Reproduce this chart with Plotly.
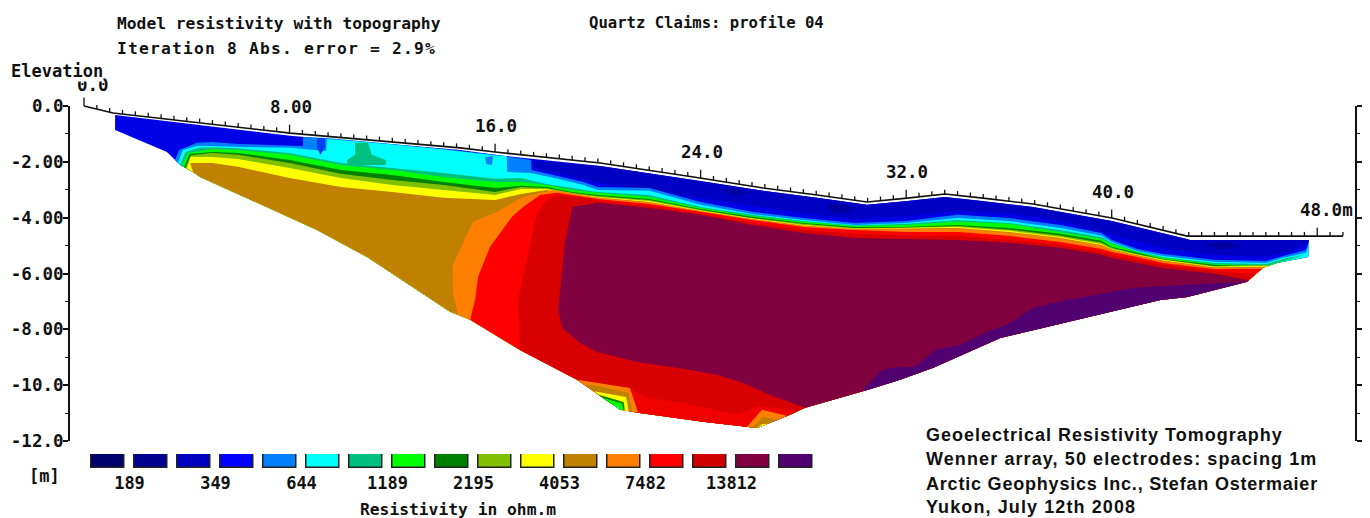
import plotly.graph_objects as go
import numpy as np

W, H = 1370, 518

# ---- topography (distance m, elevation m)
surface_x = [0, 1.13, 8.02, 14.64, 16, 20.09, 23.98, 26.43, 28.53, 30.48, 32.04, 33.51, 34.99, 36.94, 40.01, 42.94, 49]
surface_y = [0, -0.25, -0.97, -1.50, -1.65, -2.04, -2.58, -2.94, -3.19, -3.44, -3.30, -3.15, -3.30, -3.51, -4.01, -4.66, -4.66]

# ---- section outline
top_x = [1.21, 1.21, 8.02, 14.64, 16, 20.09, 23.98, 26.43, 28.53, 30.48, 32.04, 33.51, 34.99, 36.94, 40.01, 42.94, 43.05, 47.68]
top_y = [-0.86, -0.32, -1.07, -1.58, -1.75, -2.15, -2.69, -3.04, -3.29, -3.54, -3.40, -3.26, -3.40, -3.62, -4.12, -4.76, -4.80, -4.80]
low_x = [1.21, 3.23, 3.74, 4.24, 4.52, 9.07, 11.02, 14.25, 15.03, 16.97, 19.19, 20.87, 21.57, 24.10, 25.54, 26.20, 27.48, 28.07,
         30.48, 31.76, 33.05, 35.66, 38.26, 40.21, 41.89, 42.94, 45.27, 45.89, 46.44, 47.65]
low_y = [-0.86, -1.65, -2.11, -2.36, -2.54, -4.44, -5.41, -7.37, -7.66, -8.74, -9.81, -10.88, -10.99, -11.31, -11.46, -11.53, -11.06, -10.81,
         -10.17, -9.81, -9.38, -8.31, -7.74, -7.31, -6.95, -6.84, -6.30, -5.80, -5.62, -5.41]

# ---- band boundaries at shared stations
st_left = [5, 6, 8, 10, 12, 14, 16, 17, 18, 19]
st_right = [20, 22, 24, 26, 28, 30, 32, 34, 36, 38, 39.6, 40, 41, 42, 44]

midblue_x = [17.5, 17.5, 20, 24, 28, 30, 32, 34, 36, 38, 40, 42, 44, 46, 47, 47.6, 47.6, 43.05, 42.94, 40.01, 36.94, 34.99, 33.51, 32.04, 30.48, 28.53, 26.43, 23.98, 20.09]
midblue_y = [-1.95, -2.2, -2.75, -3.3, -3.85, -4.05, -3.95, -3.75, -3.85, -4.1, -4.6, -5.1, -5.35, -5.4, -5.2, -4.9, -4.8, -4.8, -4.76, -4.12, -3.62, -3.40, -3.26, -3.40, -3.54, -3.29, -3.04, -2.69, -2.15]
dark_patches = [
    ([24.8, 25.3, 25.9, 25.4], [-3.0, -2.95, -3.1, -3.25]),
    ([28.9, 29.5, 30.0, 29.6, 29.1], [-3.55, -3.5, -3.65, -3.85, -3.8]),
    ([43.5, 44.4, 45, 44.3], [-4.95, -4.87, -5.0, -5.15]),
]

lightblue_x = [3.54, 3.70, 4.40, 5, 6, 8, 8.52, 8.52, 9.46, 12, 14, 16, 17, 17.4, 17.42, 18.43, 19.44] + st_right + [46, 46.67, 47.57, 47.68]
lightblue_y = [-1.93, -1.58, -1.32, -1.29, -1.36, -1.40, -1.43, -1.11, -1.15, -1.36, -1.54, -1.75, -1.86, -1.93, -2.29, -2.51, -2.72,
               -2.90, -2.94, -3.44, -3.79, -4.01, -4.19, -4.12, -3.90, -4.01, -4.26, -4.55, -4.80, -5.12, -5.30, -5.51, -5.55, -5.37, -5.16, -4.83]

cyan_x = [3.66, 3.85, 4.40, 5, 6, 8, 9.42, 9.46, 12, 14, 16, 16.45, 16.47, 17.38, 18.43, 19.44] + st_right + [46, 46.67, 47.57, 47.68]
cyan_y = [-2.04, -1.58, -1.43, -1.43, -1.47, -1.50, -1.61, -1.18, -1.38, -1.56, -1.77, -1.79, -2.36, -2.40, -2.61, -2.83,
          -3.01, -3.04, -3.54, -3.87, -4.08, -4.26, -4.19, -4.01, -4.12, -4.37, -4.65, -4.87, -5.19, -5.37, -5.58, -5.62, -5.44, -5.26, -4.90]

teal_x = [3.74, 3.95, 4.5] + st_left + st_right + [46, 46.67, 47.6]
teal_y = [-2.11, -1.65, -1.49, -1.48, -1.52, -1.68, -2.04, -2.22, -2.40, -2.61, -2.58, -2.79, -2.94,
          -3.08, -3.19, -3.62, -3.90, -4.12, -4.28, -4.22, -4.08, -4.19, -4.44, -4.69, -4.90, -5.21, -5.41, -5.62, -5.66, -5.48, -5.30]

green_x = [3.82, 4.05] + st_left + st_right + [46, 46.67, 47.6]
green_y = [-2.15, -1.68, -1.54, -1.58, -1.75, -2.11, -2.29, -2.54, -2.72, -2.72, -2.83, -3.01,
           -3.11, -3.26, -3.65, -3.94, -4.15, -4.30, -4.26, -4.15, -4.22, -4.51, -4.76, -4.94, -5.23, -5.44, -5.66, -5.73, -5.55, -5.37]

dgreen_x = [3.90, 4.10] + st_left + st_right + [46, 46.3]
dgreen_y = [-2.19, -1.72, -1.65, -1.68, -1.93, -2.29, -2.47, -2.72, -2.94, -2.86, -2.90, -3.08,
            -3.19, -3.33, -3.69, -3.97, -4.19, -4.33, -4.33, -4.26, -4.37, -4.58, -4.83, -5.05, -5.26, -5.48, -5.69, -5.76, -5.67]

ygreen_x = [3.95, 4.15] + st_left + st_right + [46.2]
ygreen_y = [-2.22, -1.76, -1.68, -1.75, -2.04, -2.43, -2.65, -2.83, -3.08, -2.90, -2.94, -3.11,
            -3.22, -3.37, -3.72, -4.01, -4.22, -4.37, -4.35, -4.30, -4.42, -4.64, -4.89, -5.08, -5.30, -5.50, -5.73, -5.70]

yellow_x = [4.0, 4.15] + st_left + st_right + [46.1]
yellow_y = [-2.24, -1.83, -1.83, -1.90, -2.22, -2.58, -2.83, -3.01, -3.19, -2.97, -2.97, -3.15,
            -3.26, -3.40, -3.74, -4.03, -4.26, -4.40, -4.37, -4.33, -4.47, -4.69, -4.94, -5.12, -5.33, -5.51, -5.76, -5.73]

brown_x = [4.24, 4.13] + st_left + st_right + [46.0]
brown_y = [-2.36, -2.04, -2.04, -2.18, -2.58, -2.90, -3.08, -3.29, -3.37, -3.15, -3.01, -3.19,
           -3.28, -3.44, -3.76, -4.05, -4.28, -4.41, -4.39, -4.37, -4.51, -4.73, -4.98, -5.14, -5.35, -5.53, -5.78, -5.76]

orange_x = [14.56, 14.36, 14.36, 14.75, 15.14, 16.08, 17.09, 18.26] + st_right + [45.95]
orange_y = [-7.48, -6.69, -5.69, -4.90, -4.15, -3.79, -3.26, -3.01,
            -3.29, -3.47, -3.78, -4.06, -4.30, -4.42, -4.40, -4.40, -4.55, -4.76, -5.01, -5.16, -5.37, -5.55, -5.80, -5.78]

red_x = [15.03, 15.22, 15.34, 15.8, 16.66, 17.09, 17.75, 18.41] + st_right + [45.85]
red_y = [-7.66, -6.95, -6.12, -5.05, -3.97, -3.62, -3.19, -3.11,
         -3.33, -3.51, -3.79, -4.08, -4.33, -4.44, -4.51, -4.51, -4.65, -4.87, -5.12, -5.23, -5.41, -5.62, -5.84, -5.83]

dred_x = [16.97, 16.89, 17.09, 17.63, 18.02, 18.41, 19.42] + st_right + [45.6]
dred_y = [-8.74, -6.95, -6.12, -3.83, -3.37, -3.19, -3.26,
          -3.40, -3.58, -3.87, -4.19, -4.44, -4.58, -4.65, -4.65, -4.80, -4.98, -5.23, -5.33, -5.51, -5.69, -5.91, -6.03]

maroon_x = [28.07, 26.7, 25.65, 24.64, 23.08, 21.53, 19.97, 19.31, 18.61, 18.45, 18.72, 19.0] + st_right + [45.35]
maroon_y = [-10.81, -10.35, -9.92, -9.63, -9.38, -9.17, -8.81, -8.49, -7.95, -7.30, -4.90, -3.62,
            -3.47, -3.65, -3.90, -4.26, -4.55, -4.73, -4.76, -4.80, -4.90, -5.08, -5.33, -5.44, -5.62, -5.80, -6.01, -6.24]

purple_x = [30.28, 30.98, 31.37, 32.35, 33.13, 34.1, 35.07, 36.04, 36.94, 38.26, 40.83, 42.78, 45.27]
purple_y = [-10.22, -9.52, -9.38, -9.34, -8.73, -8.56, -8.13, -7.77, -7.23, -6.95, -6.52, -6.41, -6.30]

# deep pockets along the base
strip_x = [21.25, 21.25, 21.92, 23.32, 25.42, 25.73, 26.31, 27.75]
strip_y = [-10.94, -10.10, -10.45, -10.63, -11.06, -10.95, -10.74, -10.94]
pocket_a = [
    ("#ff8000", [19.19, 21.25, 21.57], [-9.81, -10.10, -10.99]),
    ("#c08000", [19.5, 19.75, 21.2, 21.35], [-10.01, -9.98, -10.27, -10.95]),
    ("#ffff00", [19.85, 21.1, 21.2], [-10.22, -10.42, -10.93]),
    ("#008000", [20.0, 21.0, 21.05], [-10.33, -10.60, -10.88]),
    ("#00ff00", [20.2, 20.95, 20.98], [-10.45, -10.67, -10.88]),
    ("#00ffff", [20.55, 20.8, 20.85], [-10.68, -10.78, -10.85]),
]
pocket_b = [
    ("#ff8000", [25.81, 26.39, 27.36], [-11.49, -10.88, -11.10]),
    ("#c08000", [26.0, 26.43, 27.01], [-11.51, -11.14, -11.23]),
    ("#ffff00", [26.2, 26.39, 26.62], [-11.53, -11.40, -11.38]),
]
# blobs in the near-surface layer
teal_blob_x = [10.24, 10.55, 10.55, 11.06, 11.2, 11.75, 11.75, 10.24]
teal_blob_y = [-1.93, -1.75, -1.32, -1.32, -1.75, -1.93, -2.11, -2.11]
lb_blob_x = [15.61, 15.92, 15.88, 15.65]
lb_blob_y = [-1.83, -1.79, -2.11, -2.08]
blue_blob_x = [9.07, 9.38, 9.38, 9.2, 9.07]
blue_blob_y = [-1.15, -1.15, -1.50, -1.75, -1.50]

# ---- axis and legend text
y_ticks = [0, -2, -4, -6, -8, -10, -12]
y_labels = ["0.0", "-2.00", "-4.00", "-6.00", "-8.00", "-10.0", "-12.0"]
x_label_pos = [0, 8, 16, 24, 32, 40, 48]
x_label_txt = ["0.0", "8.00", "16.0", "24.0", "32.0", "40.0", "48.0m"]
legend_colors = ["#00006e", "#000090", "#0000c0", "#0000ff", "#0080ff", "#00ffff", "#00c080", "#00ff00", "#008000",
                 "#80c000", "#ffff00", "#c08000", "#ff8000", "#ff0000", "#d00000", "#800040", "#500070"]
legend_vals = ["189", "349", "644", "1189", "2195", "4053", "7482", "13812"]

INK = "#111111"
MONO = "DejaVu Sans Mono"


def on_base(xs, ys):
    """Close a boundary along the lower outline of the section."""
    pts = [(a, b) for a, b in zip(reversed(low_x), reversed(low_y)) if xs[0] < a < xs[-1]]
    return list(xs) + [p[0] for p in pts], list(ys) + [p[1] for p in pts]


fig = go.Figure()


def add(xs, ys, color):
    fig.add_trace(go.Scatter(x=xs, y=ys, yaxis="y2", mode="lines", fill="toself", fillcolor=color,
                             line=dict(width=0, color=color), hoverinfo="skip", showlegend=False))


add(*on_base(top_x, top_y), "#0000e6")
add(midblue_x, midblue_y, "#0000c4")
for px, py in dark_patches:
    add(px, py, "#0000a0")
add(*on_base(lightblue_x, lightblue_y), "#0080ff")
add(*on_base(cyan_x, cyan_y), "#00ffff")
add(lb_blob_x, lb_blob_y, "#0080ff")
add(blue_blob_x, blue_blob_y, "#0040f0")
add(teal_blob_x, teal_blob_y, "#00c080")
add(*on_base(teal_x, teal_y), "#00c080")
add(*on_base(green_x, green_y), "#00ff00")
add(*on_base(dgreen_x, dgreen_y), "#008000")
add(*on_base(ygreen_x, ygreen_y), "#80c000")
add(*on_base(yellow_x, yellow_y), "#ffff00")
add(*on_base(brown_x, brown_y), "#c08000")
add(*on_base(orange_x, orange_y), "#ff8000")
add(*on_base(red_x, red_y), "#ff0000")
add(*on_base(dred_x, dred_y), "#d80000")
add(*on_base(maroon_x, maroon_y), "#800040")
add(*on_base(purple_x, purple_y), "#500070")
add(*on_base(strip_x, strip_y), "#f00000")
for c, px, py in pocket_a + pocket_b:
    add(*on_base(px, py), c)

# surface line with electrode ticks
fig.add_trace(go.Scatter(x=surface_x, y=surface_y, yaxis="y2", mode="lines",
                         line=dict(color=INK, width=1.6), hoverinfo="skip", showlegend=False))
tick_pos = np.arange(0, 49.01, 0.5)
tx, ty = [], []
for t in tick_pos:
    z = float(np.interp(t, surface_x, surface_y))
    tx += [t, t, None]
    ty += [z, z + (0.3 if t % 8 == 0 else 0.15), None]
fig.add_trace(go.Scatter(x=tx, y=ty, yaxis="y2", mode="lines", line=dict(color=INK, width=1.3),
                         hoverinfo="skip", showlegend=False))

# keeps the elevation axis drawn
fig.add_trace(go.Scatter(x=[0], y=[0], yaxis="y", mode="none", hoverinfo="skip", showlegend=False))

# colour legend
fig.add_trace(go.Bar(x=[i + 0.5 for i in range(len(legend_colors))], y=[1] * len(legend_colors),
                     xaxis="x3", yaxis="y3", width=0.79, marker=dict(color=legend_colors, line=dict(color="#222222", width=1.5)),
                     hoverinfo="skip", showlegend=False))


def px_x(v):
    return v / W


def px_y(v):
    return 1 - v / H


def note(text, x, y, size=16, family=MONO, weight="bold", anchor="left", **kw):
    fig.add_annotation(text=text, x=px_x(x), y=px_y(y), xref="paper", yref="paper", showarrow=False,
                       xanchor=anchor, yanchor="middle", align="left", borderpad=0,
                       font=dict(family=family, size=size, color=INK, weight=weight), **kw)


for pos, txt in zip(x_label_pos, x_label_txt):
    fig.add_annotation(text=txt, x=pos, y=float(np.interp(pos, surface_x, surface_y)), xref="x", yref="y2", showarrow=False,
                       xanchor="center", yanchor="middle", yshift=26 if pos else 21, xshift={0: 9, 48: 9}.get(pos, 1),
                       font=dict(family=MONO, size=17.5, color=INK, weight="bold"))

note("Model resistivity with topography", 116, 23, size=16.3)
note("Iteration 8 Abs. error = 2.9%", 116, 48, size=16.3)
note("Quartz Claims: profile 04", 588, 23, size=15.6)
note("Elevation", 10, 71, size=17, bgcolor="white")
note("[m]", 28, 476, size=17)
note("Resistivity in ohm.m", 359, 509, size=16.3)
for i, line in enumerate(["Geoelectrical Resistivity Tomography", "Wenner array, 50 electrodes: spacing 1m",
                          "Arctic Geophysics Inc., Stefan Ostermaier", "Yukon, July 12th 2008"]):
    note(line, 925, [435, 459, 484, 507][i], size=18, family="Liberation Sans", weight="bold")

fig.update_layout(
    template=None,
    width=W, height=H, margin=dict(l=0, r=0, t=0, b=0, autoexpand=False), paper_bgcolor="white", plot_bgcolor="white",
    showlegend=False, bargap=0,
    xaxis=dict(domain=[70 / W, 1355 / W], range=[-0.545, 49.47], visible=False, anchor="y2", automargin=False),
    yaxis=dict(domain=[(H - 441) / H, (H - 106) / H], range=[-12, 0], anchor="x", showgrid=False, zeroline=False, automargin=False,
               showline=True, linecolor=INK, linewidth=2, mirror="allticks", ticks="outside", ticklen=5, tickwidth=1.6,
               tickcolor=INK, tickmode="array", tickvals=y_ticks, ticktext=y_labels, ticklabelstandoff=-4,
               tickfont=dict(family=MONO, size=17.5, color=INK, weight="bold"),
               minor=dict(tickmode="array", tickvals=[-1, -3, -5, -7, -9, -11], ticks="outside", ticklen=3, tickcolor=INK, tickwidth=1.4)),
    yaxis2=dict(domain=[(H - 441) / H, 1], range=[-12, 106 / 27.917], visible=False, anchor="x", automargin=False),
    xaxis3=dict(domain=[86.5 / W, 817.5 / W], range=[0, 17], anchor="y3", showgrid=False, zeroline=False, showline=False, automargin=False,
                ticks="", tickmode="array", tickvals=[1, 3, 5, 7, 9, 11, 13, 15], ticktext=legend_vals, ticklabelstandoff=3,
                tickfont=dict(family=MONO, size=17, color=INK, weight="bold")),
    yaxis3=dict(domain=[(H - 468) / H, (H - 454) / H], range=[0, 1], anchor="x3", visible=False, automargin=False),
)

spacing = """
document.body.style.margin='0';
var gaps = {'Geoelectrical':'1.0px','Wenner':'1.1px','Arctic':'0.8px','Yukon':'1.1px','Iteration':'1.2px'};
document.querySelectorAll('.annotation-text').forEach(function(t){
  var k = (t.textContent||'').split(' ')[0].replace(',','');
  if (gaps[k]) { t.style.letterSpacing = gaps[k]; }
});
"""
fig.write_html("out.html", config={"displayModeBar": False}, post_script=spacing)
